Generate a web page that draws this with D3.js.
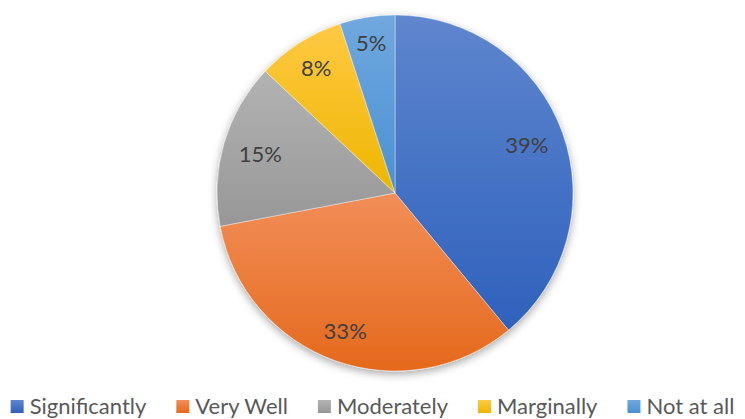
<!DOCTYPE html>
<html><head><meta charset="utf-8">
<script src="https://cdn.jsdelivr.net/npm/d3@7"></script>
<style>body{margin:0;background:#fff}svg{display:block}</style>
</head><body>
<svg id="c" width="745" height="419"></svg>
<script>
const categories = ["Significantly","Very Well","Moderately","Marginally","Not at all"];
const values = [39,33,15,8,5];
const labels = ["39%","33%","15%","8%","5%"];
const colorsTop = ["#5F86CE","#F28E58","#B3B3B3","#FFC943","#70A8DE"];
const colorsBot = ["#2E61BC","#E4691C","#979797","#EDB600","#4A90D3"];

const svg = d3.select("#c");
const W = 745, H = 419;
const cx = 395, cy = 193, R = 178;
const FONT = "Lato, 'Noto Sans', sans-serif";
const defs = svg.append("defs");
const f = defs.append("filter").attr("id","sh").attr("x","-20%").attr("y","-20%").attr("width","140%").attr("height","140%");
f.append("feDropShadow").attr("dx",0).attr("dy",3).attr("stdDeviation",4).attr("flood-color","#000").attr("flood-opacity",0.35);
categories.forEach((c,i)=>{
  const g = defs.append("linearGradient").attr("id","g"+i).attr("x1",0).attr("y1",0).attr("x2",0).attr("y2",1);
  g.append("stop").attr("offset","0%").attr("stop-color",colorsTop[i]);
  g.append("stop").attr("offset","100%").attr("stop-color",colorsBot[i]);
});
const pie = d3.pie().sort(null).value(d=>d)(values);
const arc = d3.arc().innerRadius(0).outerRadius(R);
const g = svg.append("g").attr("transform",`translate(${cx},${cy})`);
const gs = g.append("g").attr("filter","url(#sh)");
gs.selectAll("path").data(pie).join("path").attr("d",arc)
  .attr("fill",(d,i)=>`url(#g${i})`).attr("stroke","#fff").attr("stroke-width",0.4);
const txt = g.selectAll("text").data(pie).join("text")
  .attr("text-anchor","middle").attr("dy","0.35em")
  .attr("font-family",FONT).attr("font-size",22).attr("fill","#404040")
  .text((d,i)=>labels[i]);
txt.attr("transform",function(d){
  const bb = this.getBBox();
  const a = (d.startAngle+d.endAngle)/2;
  const hw = bb.width/2, hh = 10;
  const r = 0.92*R - (Math.abs(Math.sin(a))*hw + Math.abs(Math.cos(a))*hh);
  return `translate(${Math.sin(a)*r},${-Math.cos(a)*r})`;
});
// legend
const lg = svg.append("g");
const items = lg.selectAll("g").data(categories).join("g");
items.append("rect").attr("width",13).attr("height",13).attr("y",-14).attr("fill",(d,i)=>`url(#g${i})`);
items.append("text").attr("x",19).attr("y",0).attr("font-family",FONT).attr("font-size",22).attr("fill","#595959").text(d=>d);
const widths = [];
items.each(function(){ widths.push(d3.select(this).select("text").node().getComputedTextLength()+19); });
const gap = 30;
const total = d3.sum(widths)+gap*(widths.length-1);
let x = (W-total)/2;
items.attr("transform",(d,i)=>{ const t=`translate(${x},414)`; x += widths[i]+gap; return t; });
</script>
</body></html>
